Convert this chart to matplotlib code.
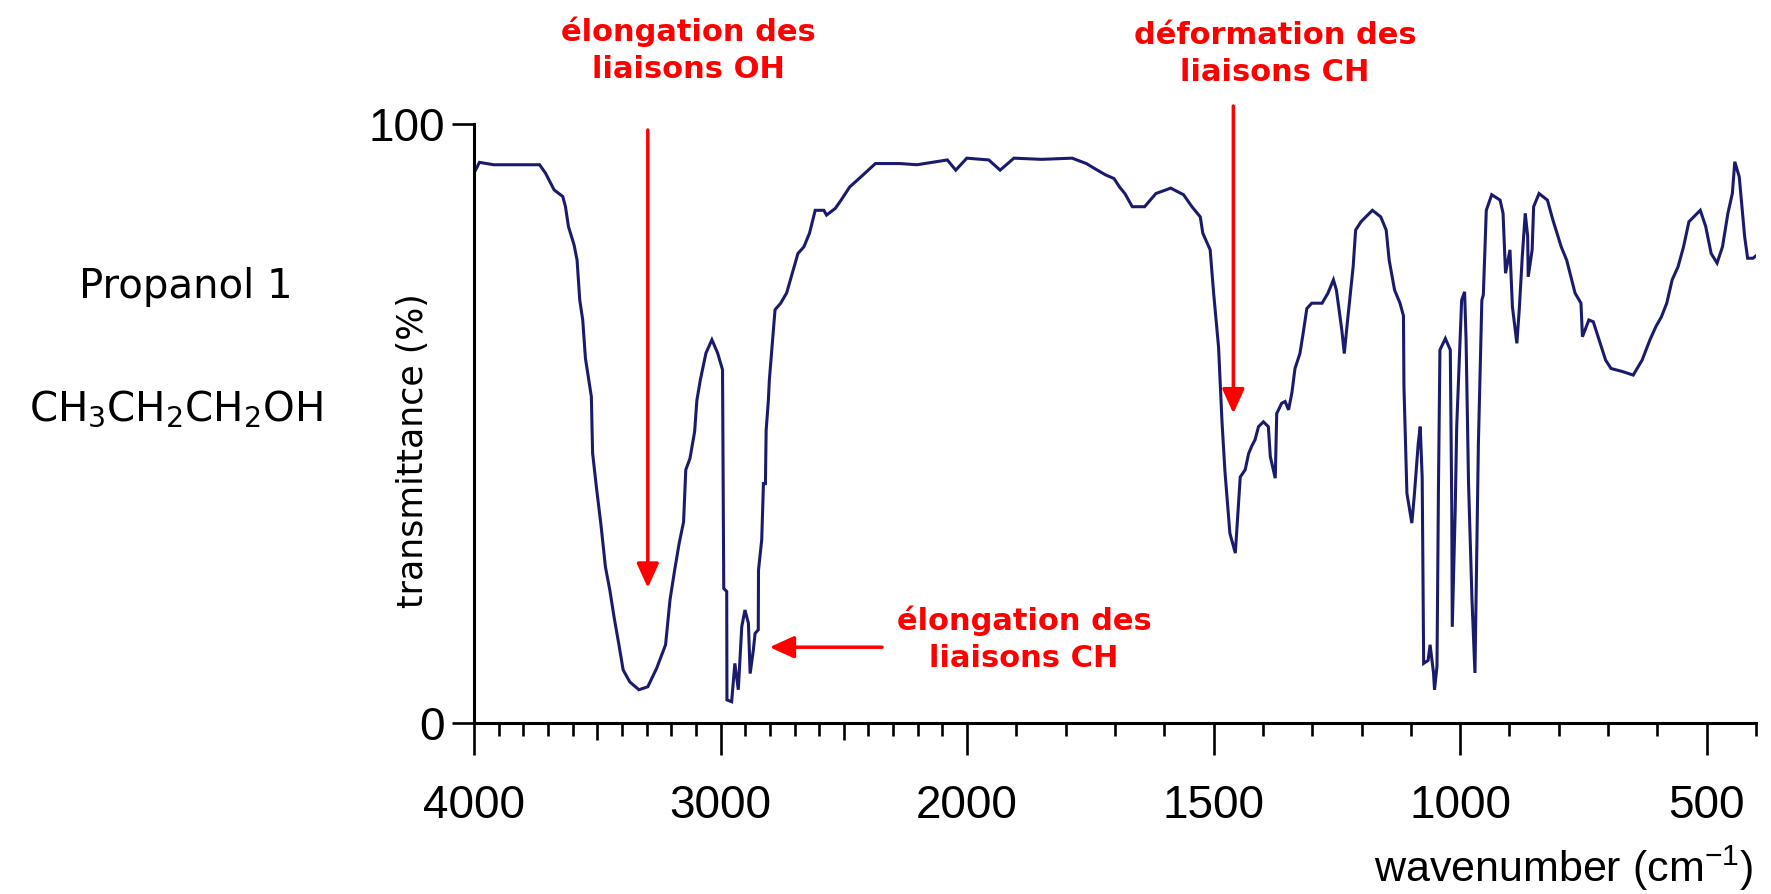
import matplotlib
matplotlib.use('Agg')
import matplotlib.pyplot as plt
import numpy as np
from matplotlib.transforms import blended_transform_factory

plt.rcParams['font.family'] = ['Liberation Sans', 'DejaVu Sans']
plt.rcParams['mathtext.default'] = 'regular'

# IR spectrum of propan-1-ol
wavenumber = [4000, 3978, 3920, 3734, 3710, 3675, 3640, 3629, 3617, 3594, 3582, 3571, 3559, 3548, 3524,
              3519, 3503, 3485, 3467, 3449, 3431, 3413, 3395, 3368, 3331, 3295, 3259, 3223, 3205, 3186,
              3168, 3150, 3141, 3124, 3105, 3096, 3082, 3059, 3035, 3012, 2992, 2988, 2987, 2975, 2974,
              2955, 2942, 2928, 2914, 2901, 2887, 2880, 2867, 2860, 2847, 2846, 2833, 2826, 2818, 2815,
              2806, 2802, 2779, 2756, 2732, 2709, 2686, 2662, 2639, 2616, 2581, 2570, 2535, 2511, 2476,
              2430, 2372, 2272, 2204, 2080, 2046, 2001, 1956, 1933, 1905, 1849, 1787, 1758, 1742, 1719,
              1702, 1691, 1680, 1665, 1640, 1617, 1587, 1561, 1544, 1527, 1522, 1507, 1500, 1490, 1483,
              1477, 1467, 1456, 1446, 1436, 1429, 1423, 1416, 1409, 1399, 1389, 1385, 1375, 1372, 1362,
              1355, 1348, 1341, 1335, 1325, 1318, 1311, 1301, 1280, 1268, 1257, 1251, 1240, 1235, 1229,
              1217, 1212, 1201, 1178, 1161, 1150, 1144, 1133, 1122, 1115, 1114, 1108, 1098, 1093, 1085,
              1081, 1077, 1074, 1065, 1061, 1054, 1052, 1047, 1044, 1041, 1030, 1020, 1017, 1016, 1010,
              1007, 997, 991, 988, 983, 976, 970, 963, 956, 953, 947, 936, 919, 913, 908,
              899, 894, 885, 880, 874, 868, 863, 862, 854, 851, 840, 823, 812, 795, 784,
              767, 755, 752, 739, 730, 716, 705, 694, 671, 649, 631, 615, 603, 592, 581,
              570, 558, 547, 536, 513, 502, 491, 479, 468, 457, 448, 443, 434, 423, 417,
              406, 400]
transmittance = [91.8, 93.6, 93.2, 93.2, 91.8, 89.0, 87.9, 86.2, 82.9, 79.8, 77.3, 70.6, 67.3, 60.9, 54.5,
                 45.1, 39.2, 33.1, 26.1, 22.2, 17.5, 13.3, 8.9, 6.9, 5.6, 6.1, 9.2, 13.1, 20.6, 25.6,
                 30.0, 33.6, 42.3, 44.2, 48.7, 53.9, 57.3, 61.8, 64.0, 61.8, 59.0, 30.6, 22.5, 22.0, 3.9,
                 3.6, 10.0, 5.6, 16.1, 18.9, 16.7, 8.3, 12.2, 15.0, 15.6, 25.6, 30.6, 40.0, 40.0, 48.9,
                 53.9, 57.3, 69.0, 70.1, 71.8, 75.1, 78.4, 79.5, 81.8, 85.6, 85.6, 84.8, 85.9, 87.3, 89.5,
                 91.2, 93.4, 93.4, 93.2, 94.0, 92.3, 94.3, 94.0, 92.3, 94.3, 94.1, 94.3, 93.4, 92.6, 91.5,
                 90.9, 89.5, 88.4, 86.2, 86.2, 88.4, 89.3, 88.2, 86.2, 84.5, 81.8, 79.0, 71.8, 62.8, 50.3,
                 42.0, 31.7, 28.4, 41.1, 42.3, 45.0, 46.2, 47.3, 49.5, 50.3, 49.5, 44.5, 40.9, 51.7, 53.4,
                 53.7, 52.3, 55.3, 59.2, 61.7, 65.3, 69.2, 70.1, 70.1, 71.8, 74.0, 72.3, 65.6, 61.7, 66.7,
                 76.2, 82.3, 83.7, 85.6, 84.5, 82.3, 77.3, 72.3, 70.1, 68.0, 56.2, 38.4, 33.4, 38.0, 46.7,
                 49.5, 41.0, 10.0, 10.5, 13.1, 8.4, 5.6, 9.5, 39.5, 62.3, 64.2, 62.3, 35.7, 16.1, 35.7,
                 49.5, 70.6, 72.0, 64.0, 40.0, 20.6, 8.4, 46.7, 70.6, 71.5, 85.6, 88.2, 87.3, 85.1, 75.1,
                 79.0, 69.5, 63.4, 69.2, 77.9, 85.1, 81.2, 74.5, 79.0, 86.2, 88.4, 87.3, 84.0, 79.5, 77.3,
                 71.8, 70.1, 64.5, 67.3, 67.0, 63.4, 60.6, 59.2, 58.7, 58.1, 60.6, 64.0, 66.2, 67.8, 70.1,
                 74.0, 76.2, 79.5, 83.7, 85.6, 82.9, 78.4, 76.8, 79.5, 85.1, 88.4, 93.7, 91.2, 81.2, 77.6,
                 77.6, 78.0]

major_ticks = [4000, 3000, 2000, 1500, 1000, 500]
major_labels = ['4000', '3000', '2000', '1500', '1000', '500']
mid_ticks = [3500, 2500]
y_ticks = [0, 100]
y_labels = ['0', '100']


# IR charts: the range above 2000 cm-1 is drawn at half scale
def fwd(x):
    x = np.asarray(x, dtype=float)
    return np.where(x > 2000, 2000 + (x - 2000) / 2, x)


def inv(y):
    y = np.asarray(y, dtype=float)
    return np.where(y > 2000, 2000 + (y - 2000) * 2, y)


fig = plt.figure(figsize=(17.71, 8.94), dpi=100)
ax = fig.add_axes([0.26765, 0.19094, 0.72388, 0.67036])

ax.plot(wavenumber, transmittance, color='#1b1b6e', lw=2.2, solid_joinstyle='miter')

ax.set_xscale('function', functions=(fwd, inv))
ax.set_xlim(4000, 400)
ax.set_ylim(0, 100)

for s in ['top', 'right']:
    ax.spines[s].set_visible(False)
for s in ['left', 'bottom']:
    ax.spines[s].set_linewidth(2.2)

ax.set_xticks(major_ticks)
ax.set_xticklabels(major_labels)
minor = [w for w in np.arange(400, 4000, 100) if w not in major_ticks and w not in mid_ticks]
ax.set_xticks(minor, minor=True)
ax.xaxis.set_minor_formatter(plt.NullFormatter())
ax.tick_params(axis='x', which='major', length=23, width=1.9, pad=21, labelsize=33)
ax.tick_params(axis='x', which='minor', length=9.4, width=1.9)

# slightly longer ticks at 3500 and 2500
trans = blended_transform_factory(ax.transData, ax.transAxes)
for w in mid_ticks:
    ax.plot([w, w], [0, -0.028], transform=trans, color='black', lw=1.9, clip_on=False,
            solid_capstyle='butt')

ax.set_yticks(y_ticks)
ax.set_yticklabels(y_labels)
ax.tick_params(axis='y', length=16, width=1.9, pad=5, labelsize=33)

fig.text(413 / 1771, 1 - 451 / 894, 'transmittance (%)', rotation=90, ha='center', va='center',
         fontsize=25, family='DejaVu Sans')
fig.text(1753 / 1771, 1 - 882 / 894, 'wavenumber (cm$^{-1}$)', ha='right', va='baseline', fontsize=31)

fig.text(186 / 1771, 1 - 298 / 894, 'Propanol 1', ha='center', va='baseline', fontsize=29,
         family='DejaVu Sans')
fig.text(176 / 1771, 1 - 420 / 894, 'CH$_3$CH$_2$CH$_2$OH', ha='center', va='baseline', fontsize=29,
         family='DejaVu Sans')

red = '#ff0000'
txt = dict(color=red, fontsize=22, fontweight='bold', family='DejaVu Sans', ha='center', va='center',
           linespacing=1.35)
fig.text(688 / 1771, 1 - 50 / 894, 'élongation des\nliaisons OH', **txt)
fig.text(1275 / 1771, 1 - 54 / 894, 'déformation des\nliaisons CH', **txt)
fig.text(1024 / 1771, 1 - 639 / 894, 'élongation des\nliaisons CH', **txt)

arrow = dict(arrowstyle='-|>,head_length=0.55,head_width=0.25', color=red, lw=2.5,
             mutation_scale=27, shrinkA=0, shrinkB=0)
ax.annotate('', xy=(3295, 22.6), xytext=(3295, 99), arrowprops=arrow, annotation_clip=False)
ax.annotate('', xy=(1460, 51.7), xytext=(1460, 103), arrowprops=arrow, annotation_clip=False)
ax.annotate('', xy=(2801, 12.7), xytext=(2345, 12.7), arrowprops=arrow, annotation_clip=False)

fig.savefig('out.png', dpi=100)
